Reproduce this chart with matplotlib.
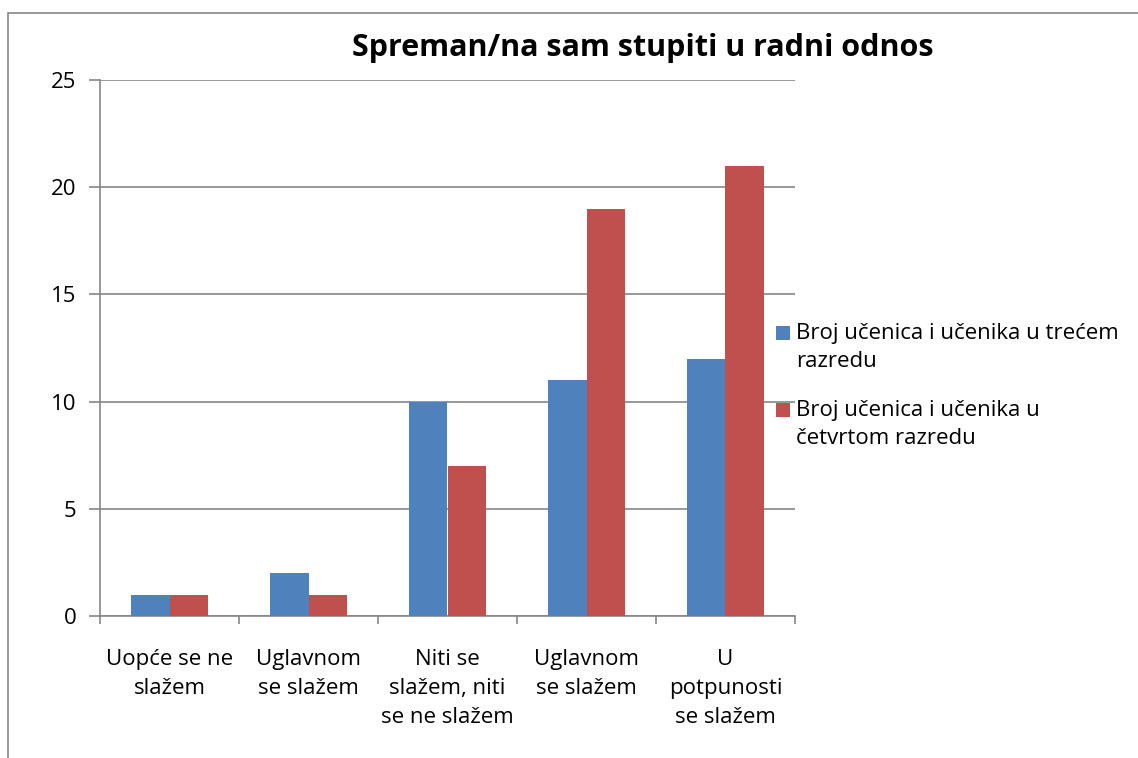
import numpy as np
import matplotlib.pyplot as plt
from matplotlib.patches import Rectangle

# data
categories = ["Uopće se ne\nslažem", "Uglavnom\nse slažem", "Niti se\nslažem, niti\nse ne slažem",
              "Uglavnom\nse slažem", "U\npotpunosti\nse slažem"]
treci = [1, 2, 10, 11, 12]
cetvrti = [1, 1, 7, 19, 21]
labels = ["Broj učenica i učenika u trećem\nrazredu", "Broj učenica i učenika u\nčetvrtom razredu"]
colors = ['#4F81BD', '#C0504D']

plt.rcParams['font.family'] = ['Open Sans', 'DejaVu Sans']

W, H = 1138, 758
fig = plt.figure(figsize=(W/100, H/100), dpi=100)
ax = fig.add_axes([100/W, 1-616/H, 695/W, 536/H])

# outer chart border
fig.patches.append(Rectangle((8/W, -0.01), 1.2, 1-13/H+0.01, transform=fig.transFigure,
                             fill=False, edgecolor='#868686', linewidth=1.2))

x = np.arange(len(categories))
w = 0.28
ax.bar(x - w/2, treci, w, color=colors[0], zorder=3)
ax.bar(x + w/2, cetvrti, w, color=colors[1], zorder=3)

ax.set_xlim(-0.5, len(categories) - 0.5)
ax.set_ylim(0, 25)
ax.set_yticks(range(0, 26, 5))
ax.grid(axis='y', color='#868686', linewidth=1.2, zorder=0)
ax.set_xticks(x)
ax.set_xticklabels(categories, fontsize=16, linespacing=1.5)
ax.set_xticks(np.arange(-0.5, len(categories)), minor=True)
ax.tick_params(axis='x', which='major', length=0, pad=24)
ax.tick_params(axis='x', which='minor', length=6, color='#868686', width=1.2)
ax.tick_params(axis='y', length=8, color='#868686', width=1.2, labelsize=16, pad=9)
for s in ['top', 'right']:
    ax.spines[s].set_visible(False)
for s in ['left', 'bottom']:
    ax.spines[s].set_color('#868686')
    ax.spines[s].set_linewidth(1.2)

fig.text(643/W, 1-48/H, "Spreman/na sam stupiti u radni odnos", ha='center', va='center',
         fontsize=22, fontweight='bold')

# legend, square aligned with first line of each label
leg_y = [333, 410]
for lab, c, y in zip(labels, colors, leg_y):
    fig.patches.append(Rectangle((776/W, 1-(y+7)/H), 14/W, 14/H, transform=fig.transFigure,
                                 facecolor=c, edgecolor='none'))
    fig.text(796/W, 1-(y-10)/H, lab, ha='left', va='top', fontsize=16, linespacing=1.45)

fig.savefig('out.png', dpi=100)
